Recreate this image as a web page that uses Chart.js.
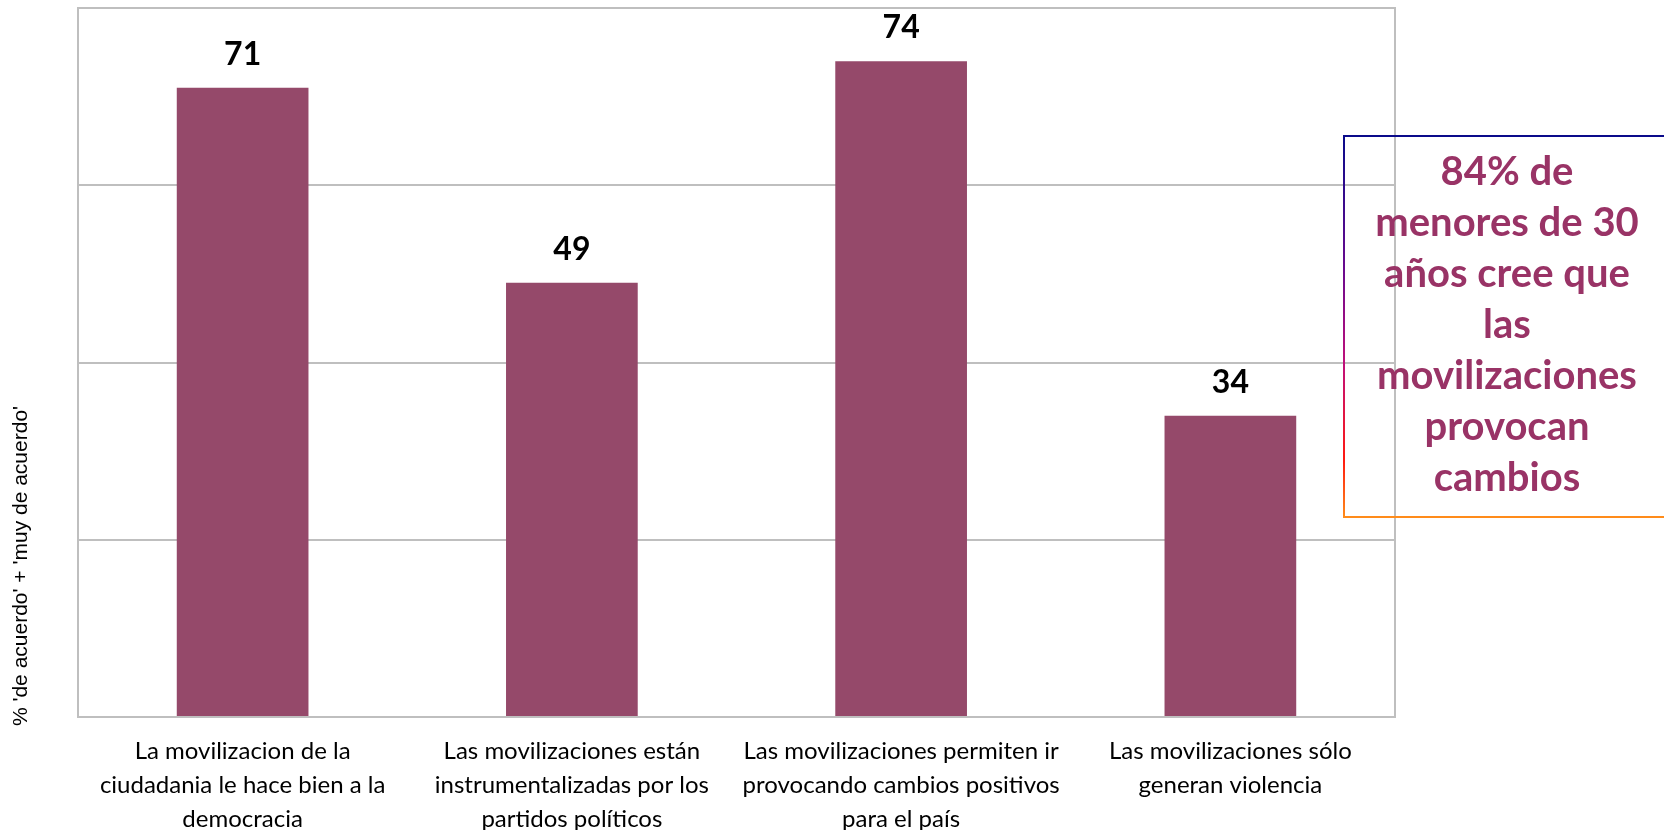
<!DOCTYPE html>
<html>
<head>
<meta charset="utf-8">
<script src="https://cdn.jsdelivr.net/npm/chart.js@4/dist/chart.umd.min.js"></script>
<style>
  body { margin: 0; background: #fff; }
  #wrap { width: 1664px; height: 830px; position: relative; }
</style>
</head>
<body>
<div id="wrap"><canvas id="myChart" width="1664" height="830"></canvas></div>
<script>
var categories = [
  ['La movilizacion de la', 'ciudadania le hace bien a la', 'democracia'],
  ['Las movilizaciones están', 'instrumentalizadas por los', 'partidos políticos'],
  ['Las movilizaciones permiten ir', 'provocando cambios positivos', 'para el país'],
  ['Las movilizaciones sólo', 'generan violencia']
];
var values = [71, 49, 74, 34];
var yTitle = "% 'de acuerdo' + 'muy de acuerdo'";
var noteLines = ['84% de', 'menores de 30', 'años cree que', 'las', 'movilizaciones', 'provocan', 'cambios'];

var barColor = '#95496a';
var noteColor = '#993366';
var gridColor = '#bfbfbf';

// frame around the plot area
var plotFrame = {
  id: 'plotFrame',
  beforeDatasetsDraw: function (chart) {
    var a = chart.chartArea, c = chart.ctx;
    c.save();
    c.strokeStyle = gridColor;
    c.lineWidth = 2;
    c.strokeRect(a.left, a.top, a.right - a.left, a.bottom - a.top);
    c.restore();
  }
};

// value printed above every bar
var barValues = {
  id: 'barValues',
  afterDatasetsDraw: function (chart) {
    var c = chart.ctx;
    var meta = chart.getDatasetMeta(0);
    c.save();
    c.font = 'bold 32px Lato';
    c.fillStyle = '#000';
    c.textAlign = 'center';
    c.textBaseline = 'alphabetic';
    meta.data.forEach(function (bar, i) {
      c.fillText(values[i], bar.x, bar.y - 23);
    });
    c.restore();
  }
};

// rotated axis title and the side note box
var extras = {
  id: 'extras',
  afterDraw: function (chart) {
    var c = chart.ctx;
    c.save();
    c.translate(21, 566);
    c.rotate(-Math.PI / 2);
    c.font = '21px "Liberation Sans"';
    c.fillStyle = '#000';
    c.textAlign = 'center';
    c.textBaseline = 'middle';
    c.fillText(yTitle, 0, 0);
    c.restore();

    var top = 136, bottom = 517, left = 1344;
    var g = c.createLinearGradient(0, top, 0, bottom);
    g.addColorStop(0, '#0a0a8a');
    g.addColorStop(0.35, '#6a0a8e');
    g.addColorStop(0.6, '#c0107a');
    g.addColorStop(0.85, '#ff1a10');
    g.addColorStop(1, '#ff8c1a');
    c.save();
    c.strokeStyle = g;
    c.lineWidth = 2;
    c.strokeRect(left, top, 1664 - left + 4, bottom - top);
    c.font = 'bold 40px Lato';
    c.fillStyle = noteColor;
    c.textAlign = 'center';
    c.textBaseline = 'alphabetic';
    noteLines.forEach(function (t, i) {
      c.fillText(t, 1507, 185 + i * 51);
    });
    c.restore();
  }
};

var ctx = document.getElementById('myChart');
var myChart = new Chart(ctx, {
  type: 'bar',
  data: {
    labels: categories,
    datasets: [
      {
        data: values,
        backgroundColor: barColor,
        categoryPercentage: 0.8,
        barPercentage: 0.5
      }
    ]
  },
  options: {
    responsive: false,
    animation: false,
    layout: { padding: { left: 78, right: 269, top: 8, bottom: 0 } },
    plugins: { legend: { display: false }, tooltip: { enabled: false } },
    scales: {
      x: {
        grid: { display: false },
        border: { display: false },
        ticks: {
          autoSkip: false,
          maxRotation: 0,
          padding: 9,
          color: '#000',
          font: { family: 'Lato', size: 24, lineHeight: 1.417 }
        },
        afterFit: function (scale) { scale.height = 113; }
      },
      y: {
        min: 0,
        max: 80,
        ticks: { display: false, stepSize: 20 },
        grid: { color: gridColor, lineWidth: 2, drawTicks: false },
        border: { display: false },
        afterFit: function (scale) { scale.width = 0; }
      }
    }
  },
  plugins: [plotFrame, barValues, extras]
});
</script>
</body>
</html>
